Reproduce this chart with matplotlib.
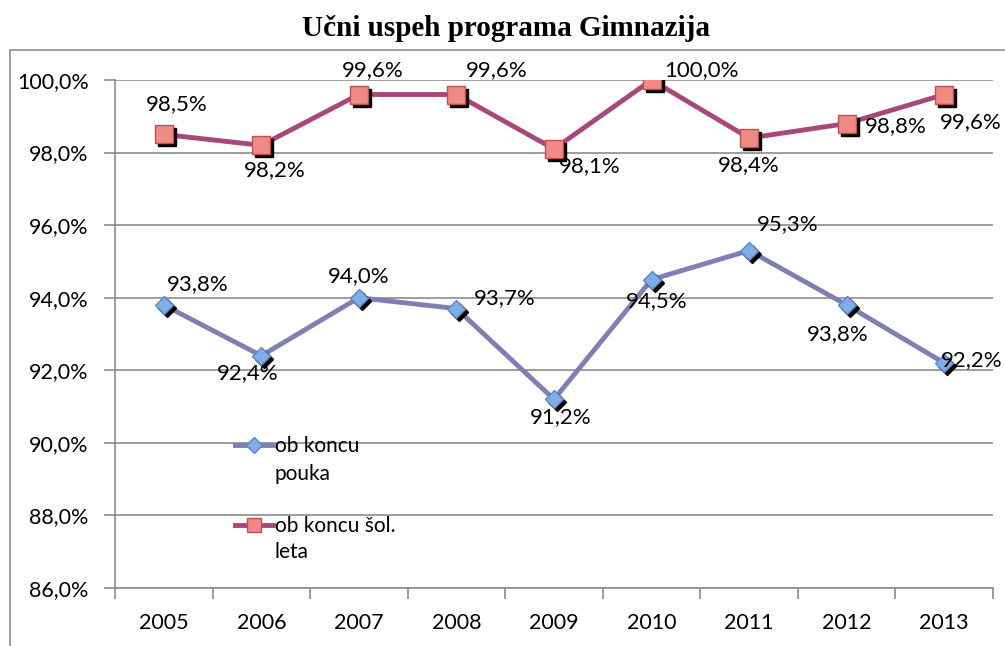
import matplotlib
matplotlib.use('Agg')
from matplotlib import pyplot as plt
from matplotlib.transforms import offset_copy
from matplotlib.patches import Rectangle

years = ['2005', '2006', '2007', '2008', '2009', '2010', '2011', '2012', '2013']
pouka = [93.8, 92.4, 94.0, 93.7, 91.2, 94.5, 95.3, 93.8, 92.2]
sol_leta = [98.5, 98.2, 99.6, 99.6, 98.1, 100.0, 98.4, 98.8, 99.6]
yticks = [86, 88, 90, 92, 94, 96, 98, 100]

# label offsets in pixels (dx, dy)
off_pouka = [(34, 21), (-14, -17), (0, 22), (48, 11), (7, -18), (5, -22), (39, 26), (-9, -29), (27, 3)]
off_sol = [(13, 30), (13, -25), (14, 24), (40, 24), (36, -17), (50, 10), (0, -27), (49, -3), (27, -28)]

plt.rcParams['font.family'] = ['Lato', 'DejaVu Sans']

def fmt(v):
    return f'{v:.1f}%'.replace('.', ',')

fig = plt.figure(figsize=(10.05, 6.46), dpi=100)
fig.patches.append(Rectangle((10 / 1005, -0.1), 1.2, (596 + 65) / 646, transform=fig.transFigure,
                             fill=False, edgecolor='#8c8c8c', linewidth=1.2))
fig.text(0.503, 1 - 28 / 646, 'Učni uspeh programa Gimnazija', ha='center', va='center',
         fontsize=21, fontweight='bold', family='Liberation Serif')

ax = fig.add_axes([115 / 1005, 1 - 588 / 646, 878 / 1005, 508 / 646])
x = list(range(len(years)))

blue_line = '#7f7fb5'
red_line = '#a8487a'
shadow = offset_copy(ax.transData, fig=fig, x=3, y=-3, units='dots')

ax.plot(x, pouka, color=blue_line, lw=3.5, zorder=3)
ax.plot(x, pouka, ls='none', marker='D', ms=9.5, color='black', mec='black', transform=shadow, zorder=4)
ax.plot(x, pouka, ls='none', marker='D', ms=9.5, color='#7eaee8', mec='#5b86c6', mew=1, zorder=5)

ax.plot(x, sol_leta, color=red_line, lw=3.5, zorder=3)
ax.plot(x, sol_leta, ls='none', marker='s', ms=13, color='black', mec='black', transform=shadow, zorder=4)
ax.plot(x, sol_leta, ls='none', marker='s', ms=13, color='#f08a86', mec='#c0504d', mew=1, zorder=5)

for i in x:
    ax.annotate(fmt(pouka[i]), (i, pouka[i]), xytext=off_pouka[i], textcoords='offset pixels',
                ha='center', va='center', fontsize=16, zorder=6)
    ax.annotate(fmt(sol_leta[i]), (i, sol_leta[i]), xytext=off_sol[i], textcoords='offset pixels',
                ha='center', va='center', fontsize=16, zorder=6)

ax.set_xlim(-0.5, len(years) - 0.5)
ax.set_ylim(86, 100)
ax.set_yticks(yticks)
ax.set_yticklabels([fmt(v) for v in yticks], fontsize=15.5)
ax.set_xticks([i - 0.5 for i in range(len(years) + 1)])
ax.set_xticklabels([])
ax.set_xticks(x, minor=True)
ax.set_xticklabels(years, minor=True, fontsize=15.5)
ax.tick_params(axis='x', which='minor', length=0, pad=18)
ax.tick_params(axis='x', which='major', length=8, color='#8c8c8c', width=1.2)
ax.tick_params(axis='y', length=8, color='#8c8c8c', width=1.2, pad=11)
ax.grid(axis='y', color='#8c8c8c', lw=1.2)
for s in ['top', 'right']:
    ax.spines[s].set_visible(False)
for s in ['left', 'bottom']:
    ax.spines[s].set_color('#8c8c8c')
    ax.spines[s].set_linewidth(1.2)

# legend drawn by hand so the handle lines up with the first text line
ax.plot([0.1367, 0.18], [0.2815, 0.2815], transform=ax.transAxes, color=blue_line, lw=3.5, clip_on=False)
ax.plot([0.158], [0.2815], transform=ax.transAxes, marker='D', ms=8, color='#7eaee8', mec='#5b86c6', clip_on=False)
ax.text(0.182, 0.2795, 'ob koncu', transform=ax.transAxes, va='center', ha='left', fontsize=15)
ax.text(0.182, 0.2244, 'pouka', transform=ax.transAxes, va='center', ha='left', fontsize=15)
ax.plot([0.1367, 0.18], [0.1240, 0.1240], transform=ax.transAxes, color=red_line, lw=3.5, clip_on=False)
ax.plot([0.158], [0.1240], transform=ax.transAxes, marker='s', ms=10, color='#f08a86', mec='#c0504d', clip_on=False)
ax.text(0.182, 0.1220, 'ob koncu šol.', transform=ax.transAxes, va='center', ha='left', fontsize=15)
ax.text(0.182, 0.0699, 'leta', transform=ax.transAxes, va='center', ha='left', fontsize=15)

fig.savefig('out.png', dpi=100)
